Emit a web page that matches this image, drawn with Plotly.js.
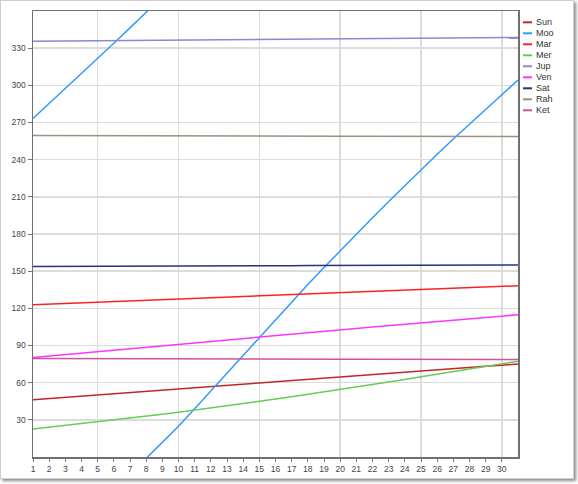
<!DOCTYPE html>
<html><head><meta charset="utf-8">
<script src="https://cdn.plot.ly/plotly-3.0.1.min.js"></script>
<style>
html,body{margin:0;padding:0;background:#fff;}
#frame{position:absolute;left:0;top:0;width:572px;height:477px;border:1px solid #cfcfcf;box-shadow:2px 2px 3px #8a8a8a;background:#fff;}
#chart{width:572px;height:477px;}
</style></head><body>
<div id="frame"><div id="chart"></div></div>
<script>
const days = [1,2,3,4,5,6,7,8,9,10,11,12,13,14,15,16,17,18,19,20,21,22,23,24,25,26,27,28,29,30,31];
const xTickLabels = ["1","2","3","4","5","6","7","8","9","10","11","12","13","14","15","16","17","18","19","20","21","22","23","24","25","26","27","28","29","30"];
const yTickLabels = ["30","60","90","120","150","180","210","240","270","300","330"];
const names = ["Sun","Moo","Mar","Mer","Jup","Ven","Sat","Rah","Ket"];
const colors = ["#c02828","#3399ff","#ff2020","#66cc55","#8888d4","#ff33ff","#28337a","#9c9080","#cc5599"];

const sun = [46.3,47.3,48.2,49.2,50.2,51.1,52.1,53.0,54.0,55.0,55.9,56.9,57.8,58.8,59.8,60.7,61.7,62.6,63.6,64.6,65.5,66.5,67.4,68.4,69.3,70.3,71.3,72.2,73.2,74.1,75.1];
const moo = [273.3,285.3,297.4,309.5,321.7,334.0,346.4,358.9,11.5,24.8,38.9,53.2,67.6,82.1,96.6,111.0,125.2,139.2,152.9,166.5,179.9,193.2,206.3,219.2,231.9,244.4,256.7,268.8,280.8,292.6,304.3];
const mar = [122.9,123.4,123.9,124.4,124.9,125.4,126.0,126.5,127.0,127.5,128.0,128.5,129.0,129.5,130.0,130.5,131.1,131.6,132.1,132.6,133.1,133.6,134.1,134.6,135.1,135.6,136.2,136.7,137.2,137.7,138.2];
const mer = [22.7,24.1,25.5,26.9,28.4,29.8,31.3,32.9,34.5,36.1,37.8,39.5,41.3,43.1,45.0,46.8,48.7,50.6,52.5,54.4,56.4,58.4,60.5,62.6,64.7,66.8,68.9,71.0,73.1,75.2,77.3];
const jup = [335.5,335.6,335.7,335.8,335.9,336.0,336.1,336.2,336.3,336.4,336.5,336.6,336.7,336.8,336.9,337.0,337.1,337.2,337.3,337.4,337.6,337.7,337.8,337.9,338.0,338.1,338.2,338.3,338.4,338.5,338.6];
const ven = [80.4,81.6,82.8,84.0,85.2,86.4,87.6,88.8,90.0,91.2,92.4,93.6,94.8,96.0,97.2,98.3,99.4,100.5,101.6,102.7,103.8,104.9,106.0,107.1,108.2,109.3,110.4,111.5,112.6,113.7,114.8];
const sat = [153.8,153.8,153.9,153.9,154.0,154.0,154.0,154.1,154.1,154.2,154.2,154.2,154.3,154.3,154.4,154.4,154.4,154.5,154.5,154.6,154.6,154.6,154.7,154.7,154.8,154.8,154.8,154.9,154.9,155.0,155.0];
const rah = [259.6,259.6,259.5,259.5,259.5,259.4,259.4,259.4,259.3,259.3,259.3,259.2,259.2,259.2,259.1,259.1,259.1,259.0,259.0,259.0,258.9,258.9,258.9,258.8,258.8,258.8,258.7,258.7,258.7,258.6,258.6];
const ket = [79.6,79.6,79.5,79.5,79.5,79.4,79.4,79.4,79.3,79.3,79.3,79.2,79.2,79.2,79.1,79.1,79.1,79.0,79.0,79.0,78.9,78.9,78.9,78.8,78.8,78.8,78.7,78.7,78.7,78.6,78.6];
const series = [sun,moo,mar,mer,jup,ven,sat,rah,ket];

// split a longitude series at 360->0 wraps so the line runs off the top and re-enters from the bottom
function wrapSplit(xs, ys){
  const ox=[], oy=[];
  for(let i=0;i<xs.length;i++){
    if(i>0 && ys[i] < ys[i-1]-180){
      ox.push(xs[i]); oy.push(ys[i]+360);
      ox.push(null); oy.push(null);
      ox.push(xs[i-1]); oy.push(ys[i-1]-360);
    }
    ox.push(xs[i]); oy.push(ys[i]);
  }
  return [ox, oy];
}

const traces = series.map((s,i)=>{
  const [xx,yy] = wrapSplit(days, s);
  return {x:xx, y:yy, type:'scatter', mode:'lines', name:names[i],
    line:{color:colors[i], width:1.5}, showlegend:false, connectgaps:false, hoverinfo:'x+y+name'};
});
traces.push({x:[days[0]], y:[null], xaxis:'x2', type:'scatter', mode:'lines', showlegend:false, hoverinfo:'skip'});

// hand-built compact legend
const L = 32, T = 10, W = 485, H = 446;
const shapes = [], annotations = [];
names.forEach((n,i)=>{
  const py = 22.3 + i*11 - 1;
  const yp = (T + H - py)/H;
  shapes.push({type:'line', xref:'paper', yref:'paper', x0:(523-1-L)/W, x1:(532-1-L)/W, y0:yp, y1:yp, line:{color:colors[i], width:2}});
  annotations.push({xref:'paper', yref:'paper', x:(534-1-L)/W, y:yp, text:n, showarrow:false, xanchor:'left', yanchor:'middle',
    font:{family:'Liberation Sans, Arial, sans-serif', size:9, color:'#333'}});
});

const tickFont = {family:'Liberation Sans, Arial, sans-serif', size:8.5, color:'#444'};
const layout = {
  width:572, height:477,
  margin:{l:L, r:572-L-W, t:T, b:477-T-H, pad:0},
  paper_bgcolor:'#fff', plot_bgcolor:'#fff',
  showlegend:false,
  xaxis:{range:[1,31], tickvals:days.slice(0,30), ticktext:xTickLabels, showgrid:false, zeroline:false,
    ticks:'outside', ticklen:3, tickcolor:'#777', showline:true, linecolor:'#707070', linewidth:1.5, mirror:true,
    tickfont:tickFont, tickangle:0},
  xaxis2:{range:[1,31], overlaying:'x', tickvals:[5,10,15,20,25,30], showgrid:true, gridcolor:'#dcdcdc', gridwidth:1.5,
    showticklabels:false, ticks:'', zeroline:false, showline:false},
  yaxis:{range:[0,360], tickvals:[30,60,90,120,150,180,210,240,270,300,330], ticktext:yTickLabels, showgrid:true,
    gridcolor:'#dcdcdc', gridwidth:1.5, zeroline:false, ticks:'outside', ticklen:4, tickcolor:'#777',
    showline:true, linecolor:'#707070', linewidth:1.5, mirror:true, tickfont:tickFont},
  shapes:shapes, annotations:annotations,
  font:{family:'Liberation Sans, Arial, sans-serif'}
};
Plotly.newPlot('chart', traces, layout, {displayModeBar:false, staticPlot:true});
</script>
</body></html>
